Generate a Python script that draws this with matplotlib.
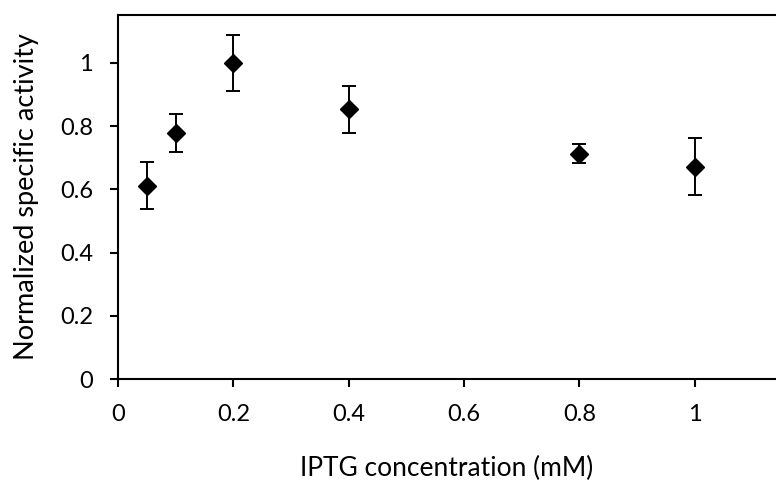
import matplotlib
matplotlib.use("Agg")
import matplotlib.pyplot as plt

iptg = [0.05, 0.1, 0.2, 0.4, 0.8, 1.0]
activity = [0.611, 0.777, 1.000, 0.853, 0.713, 0.671]
error = [0.075, 0.060, 0.088, 0.075, 0.030, 0.090]
xticks = [0, 0.2, 0.4, 0.6, 0.8, 1.0]
xticklabels = ["0", "0.2", "0.4", "0.6", "0.8", "1"]
yticks = [0, 0.2, 0.4, 0.6, 0.8, 1.0]
yticklabels = ["0", "0.2", "0.4", "0.6", "0.8", "1"]

plt.rcParams['font.family'] = ['Lato', 'DejaVu Sans']

fig = plt.figure(figsize=(7.76, 4.86), dpi=100)
ax = fig.add_axes([118/776, 1-379/486, (776-118)/776, (379-15)/486])

ax.errorbar(iptg, activity, yerr=error, fmt='D', color='black', ms=9,
            ecolor='black', elinewidth=1.4, capsize=5, capthick=1.4, clip_on=False)

ax.set_xlim(0, 1.141)
ax.set_ylim(0, 1.151)
ax.set_xticks(xticks)
ax.set_xticklabels(xticklabels)
ax.set_yticks(yticks)
ax.set_yticklabels(yticklabels)

for s in ['left', 'bottom', 'top']:
    ax.spines[s].set_linewidth(1.5)
ax.spines['right'].set_visible(False)

ax.tick_params(axis='both', direction='out', length=6, width=1.5, labelsize=17)
ax.tick_params(axis='x', pad=12)
ax.tick_params(axis='y', pad=12)

ax.set_xlabel("IPTG concentration (mM)", fontsize=19, labelpad=22)
ax.set_ylabel("Normalized specific activity", fontsize=19.5, labelpad=15)

fig.savefig("out.png", dpi=100)
